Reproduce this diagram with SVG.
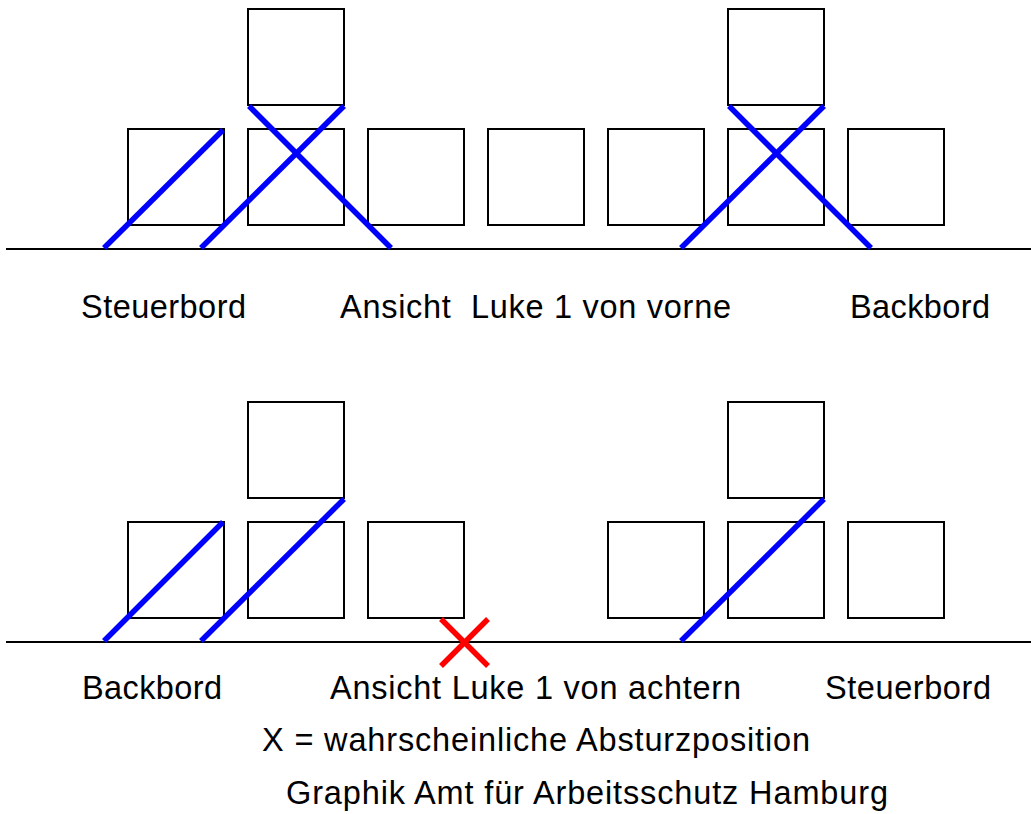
<svg xmlns="http://www.w3.org/2000/svg" width="1031" height="814" viewBox="0 0 1031 814">
<style>
.box{fill:none;stroke:#000;stroke-width:2}
.ground{stroke:#000;stroke-width:2}
.blue{stroke:#0000ff;stroke-width:5.5;stroke-linecap:butt}
.red{stroke:#ff0000;stroke-width:5.5}
text{font-family:"Liberation Sans",Arial,sans-serif;font-size:32.5px;fill:#000}
</style>
<rect width="1031" height="814" fill="#fff"/>
<g id="top-view">
  <g id="top-stack-left"><rect class="box" x="248" y="9" width="96" height="96"/></g>
  <g id="top-stack-right"><rect class="box" x="728" y="9" width="96" height="96"/></g>
  <g id="top-row">
    <rect class="box" x="128" y="129" width="96" height="96"/>
    <rect class="box" x="248" y="129" width="96" height="96"/>
    <rect class="box" x="368" y="129" width="96" height="96"/>
    <rect class="box" x="488" y="129" width="96" height="96"/>
    <rect class="box" x="608" y="129" width="96" height="96"/>
    <rect class="box" x="728" y="129" width="96" height="96"/>
    <rect class="box" x="848" y="129" width="96" height="96"/>
  </g>
  <line class="ground" x1="6" y1="249" x2="1031" y2="249"/>
</g>
<g id="bottom-view">
  <g id="bottom-stack-left"><rect class="box" x="248" y="402" width="96" height="96"/></g>
  <g id="bottom-stack-right"><rect class="box" x="728" y="402" width="96" height="96"/></g>
  <g id="bottom-row">
    <rect class="box" x="128" y="522" width="96" height="96"/>
    <rect class="box" x="248" y="522" width="96" height="96"/>
    <rect class="box" x="368" y="522" width="96" height="96"/>
    <rect class="box" x="608" y="522" width="96" height="96"/>
    <rect class="box" x="728" y="522" width="96" height="96"/>
    <rect class="box" x="848" y="522" width="96" height="96"/>
  </g>
  <line class="ground" x1="6" y1="642" x2="1031" y2="642"/>
</g>
<g id="connectors">
  <line class="blue" x1="104" y1="248" x2="223" y2="130"/>
  <line class="blue" x1="201" y1="248" x2="344" y2="106"/>
  <line class="blue" x1="249" y1="106" x2="391" y2="248"/>
  <line class="blue" x1="681" y1="248" x2="824" y2="106"/>
  <line class="blue" x1="729" y1="106" x2="871" y2="248"/>
  <line class="blue" x1="104" y1="641" x2="223" y2="522"/>
  <line class="blue" x1="201" y1="641" x2="344" y2="499"/>
  <line class="blue" x1="681" y1="641" x2="824" y2="499"/>
  <line class="red" x1="441" y1="619" x2="488" y2="666"/>
  <line class="red" x1="488" y1="619" x2="441" y2="666"/>
</g>
<g id="labels">
  <text x="81" y="318" textLength="165" lengthAdjust="spacing">Steuerbord</text>
  <text x="340" y="318" textLength="391" lengthAdjust="spacing" xml:space="preserve">Ansicht  Luke 1 von vorne</text>
  <text x="850" y="318" textLength="140" lengthAdjust="spacing">Backbord</text>
  <text x="82" y="699" textLength="140" lengthAdjust="spacing">Backbord</text>
  <text x="330" y="699" textLength="411" lengthAdjust="spacing">Ansicht Luke 1 von achtern</text>
  <text x="825" y="699" textLength="166" lengthAdjust="spacing">Steuerbord</text>
  <text x="262" y="751" textLength="548" lengthAdjust="spacing">X = wahrscheinliche Absturzposition</text>
  <text x="286" y="804" textLength="602" lengthAdjust="spacing">Graphik Amt für Arbeitsschutz Hamburg</text>
</g>
</svg>
